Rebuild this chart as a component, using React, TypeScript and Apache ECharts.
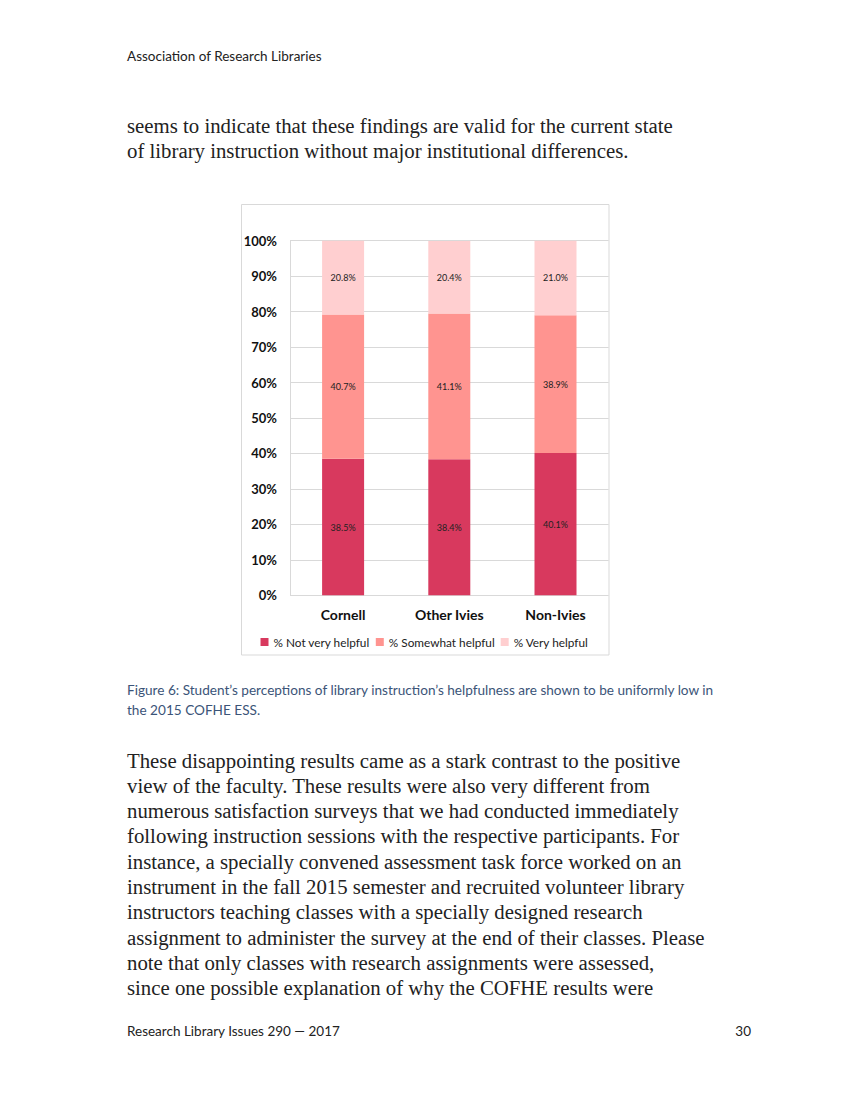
import React, { useEffect, useRef } from "react";
import * as echarts from "echarts";

const categories = ["Cornell", "Other Ivies", "Non-Ivies"];
const seriesNames = ["% Not very helpful", "% Somewhat helpful", "% Very helpful"];
const notVeryHelpful = [38.5, 38.4, 40.1];
const somewhatHelpful = [40.7, 41.1, 38.9];
const veryHelpful = [20.8, 20.4, 21.0];
const yTicks = [0, 10, 20, 30, 40, 50, 60, 70, 80, 90, 100];

const headerText = "Association of Research Libraries";
const introLines = [
  "seems to indicate that these findings are valid for the current state",
  "of library instruction without major institutional differences.",
];
const captionLines = [
  "Figure 6: Student\u2019s perceptions of library instruction\u2019s helpfulness are shown to be uniformly low in",
  "the 2015 COFHE ESS.",
];
const bodyLines = [
  "These disappointing results came as a stark contrast to the positive",
  "view of the faculty. These results were also very different from",
  "numerous satisfaction surveys that we had conducted immediately",
  "following instruction sessions with the respective participants. For",
  "instance, a specially convened assessment task force worked on an",
  "instrument in the fall 2015 semester and recruited volunteer library",
  "instructors teaching classes with a specially designed research",
  "assignment to administer the survey at the end of their classes. Please",
  "note that only classes with research assignments were assessed,",
  "since one possible explanation of why the COFHE results were",
];
const footerLeft = "Research Library Issues 290 \u2014 2017";
const footerRight = "30";

const colors = ["#D8395E", "#FF9490", "#FFCFD0"];

const SERIF = "'Liberation Serif', 'DejaVu Serif', serif";
const SANS = "Lato, 'Open Sans', sans-serif";

export default function App() {
  const ref = useRef<HTMLDivElement>(null);
  useEffect(() => {
    document.body.style.margin = "0";
    const chart = echarts.init(ref.current!, null, { renderer: "svg" });
    const graphics: any[] = [];
    graphics.push({
      type: "rect",
      shape: { x: 241.5, y: 204.5, width: 367.5, height: 450.5 },
      style: { fill: "none", stroke: "#d9d9d9", lineWidth: 1 },
      z: -1,
    });
    graphics.push({
      type: "text",
      x: 127,
      y: 56,
      style: { text: headerText, font: `13.5px ${SANS}`, fill: "#222", verticalAlign: "middle" },
    });
    introLines.forEach((t, i) => {
      graphics.push({
        type: "text",
        x: 127,
        y: 125 + i * 25.3,
        style: { text: t, font: `20.8px ${SERIF}`, fill: "#222", verticalAlign: "middle" },
      });
    });
    captionLines.forEach((t, i) => {
      graphics.push({
        type: "text",
        x: 127,
        y: 690 + i * 20,
        style: { text: t, font: `13.6px ${SANS}`, fill: "#3b5478", verticalAlign: "middle" },
      });
    });
    bodyLines.forEach((t, i) => {
      graphics.push({
        type: "text",
        x: 127,
        y: 760 + i * 25.3,
        style: { text: t, font: `20.8px ${SERIF}`, fill: "#222", verticalAlign: "middle" },
      });
    });
    graphics.push({
      type: "text",
      x: 127,
      y: 1031,
      style: { text: footerLeft, font: `13.5px ${SANS}`, fill: "#222", verticalAlign: "middle" },
    });
    graphics.push({
      type: "text",
      x: 751,
      y: 1031,
      style: { text: footerRight, font: `13.5px ${SANS}`, fill: "#222", verticalAlign: "middle", align: "right" },
    });

    const mkSeries = (name: string, data: number[], color: string) => ({
      name,
      type: "bar",
      stack: "total",
      data,
      barWidth: 42,
      itemStyle: { color },
      label: {
        show: true,
        position: "inside",
        fontSize: 9,
        fontFamily: SANS,
        color: "#222",
        formatter: (p: any) => `${Number(p.value).toFixed(1)}%`,
      },
    });

    chart.setOption({
      animation: false,
      graphic: graphics,
      grid: { left: 290, top: 240.7, width: 318.6, height: 354.6 },
      xAxis: {
        type: "category",
        data: categories,
        axisLine: { show: false },
        axisTick: { show: false },
        axisLabel: { fontSize: 14, fontWeight: "bold", color: "#111", fontFamily: SANS, margin: 12 },
      },
      yAxis: {
        type: "value",
        min: yTicks[0],
        max: yTicks[yTicks.length - 1],
        interval: 10,
        axisLine: { show: true, lineStyle: { color: "#d9d9d9" } },
        axisTick: { show: false },
        splitLine: { lineStyle: { color: "#d9d9d9", width: 1 } },
        axisLabel: { fontSize: 13, fontWeight: "bold", color: "#111", fontFamily: SANS, margin: 13, formatter: "{value}%" },
      },
      legend: {
        data: seriesNames,
        left: "center",
        top: 631,
        itemWidth: 8,
        itemHeight: 8,
        itemGap: 6,
        icon: "rect",
        textStyle: { fontSize: 11.8, color: "#222", fontFamily: SANS },
      },
      series: [
        mkSeries(seriesNames[0], notVeryHelpful, colors[0]),
        mkSeries(seriesNames[1], somewhatHelpful, colors[1]),
        mkSeries(seriesNames[2], veryHelpful, colors[2]),
      ],
    });
    return () => chart.dispose();
  }, []);
  return (
    <div
      ref={ref}
      style={{ position: "absolute", left: 0, top: 0, width: 849, height: 1100, background: "#fff" }}
    />
  );
}
